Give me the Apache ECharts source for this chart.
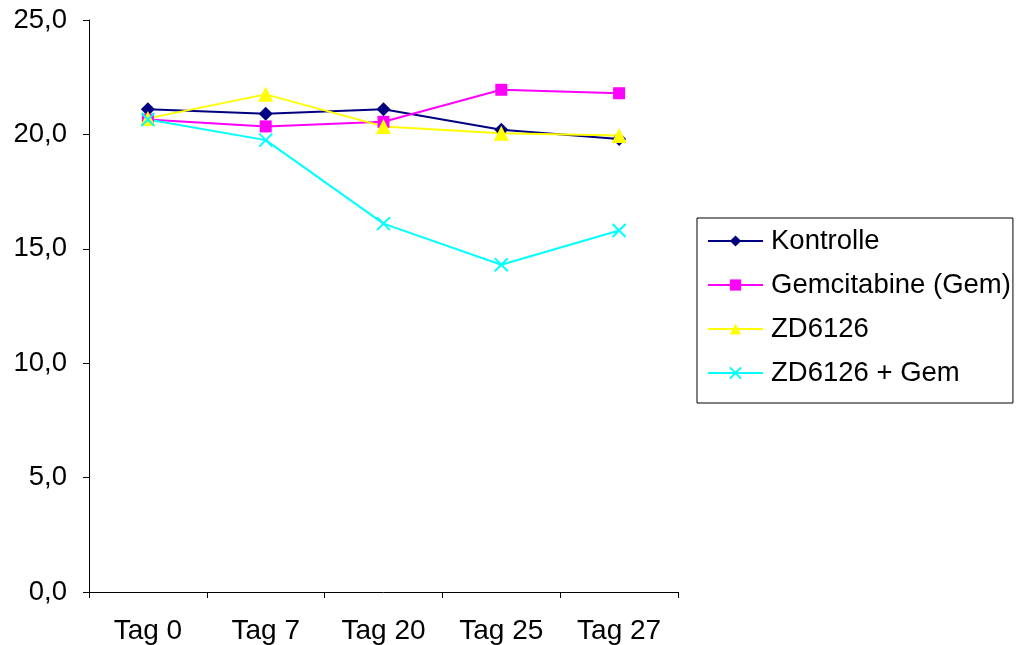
<!DOCTYPE html>
<html>
<head>
<meta charset="utf-8">
<script src="https://cdn.jsdelivr.net/npm/echarts@6/dist/echarts.min.js"></script>
<style>
  html, body { margin: 0; padding: 0; background: #fff; }
  #chart { width: 1018px; height: 645px; }
</style>
</head>
<body>
<div id="chart"></div>
<script>
// Time points of the measurement
const categories = ['Tag 0', 'Tag 7', 'Tag 20', 'Tag 25', 'Tag 27'];

// Group means per time point
const kontrolle = [21.1, 20.9, 21.1, 20.2, 19.8];
const gemcitabine = [20.65, 20.35, 20.55, 21.95, 21.8];
const zd6126 = [20.7, 21.75, 20.35, 20.05, 19.95];
const zdGem = [20.65, 19.75, 16.1, 14.3, 15.8];

const seriesNames = ['Kontrolle', 'Gemcitabine (Gem)', 'ZD6126', 'ZD6126 + Gem'];

// Y axis range and tick step
const yMin = 0, yMax = 25, yStep = 5;

const FONT = 'Liberation Sans, Arial, sans-serif';
const crossPath = 'path://M0,0L10,10M10,0L0,10';

const chart = echarts.init(document.getElementById('chart'), null, { renderer: 'canvas' });

function lineSeries(name, data, color, symbol, size, extra) {
  return Object.assign({
    name: name,
    type: 'line',
    data: data,
    symbol: symbol,
    symbolSize: size,
    showAllSymbol: true,
    animation: false,
    lineStyle: { color: color, width: 2 },
    itemStyle: { color: color },
    emphasis: { disabled: true }
  }, extra || {});
}

chart.setOption({
  backgroundColor: '#ffffff',
  textStyle: { fontFamily: FONT },
  grid: { left: 89, right: 340, top: 20, bottom: 53, containLabel: false },
  legend: {
    left: 697,
    top: 218,
    orient: 'vertical',
    data: seriesNames,
    itemWidth: 55,
    itemHeight: 14,
    itemGap: 16,
    padding: [9, 2, 16, 10],
    borderColor: '#000',
    borderWidth: 1,
    backgroundColor: '#fff',
    selectedMode: false,
    textStyle: { fontFamily: FONT, fontSize: 27.5, color: '#000', lineHeight: 28, padding: [0, 0, 0, 3] }
  },
  xAxis: {
    type: 'category',
    data: categories,
    boundaryGap: true,
    axisLine: { lineStyle: { color: '#000', width: 1 } },
    axisTick: { show: true, alignWithLabel: false, length: 6, lineStyle: { color: '#000' } },
    axisLabel: { fontFamily: FONT, fontSize: 28, color: '#000', margin: 25 },
    splitLine: { show: false }
  },
  yAxis: {
    type: 'value',
    min: yMin,
    max: yMax,
    interval: yStep,
    axisLine: { show: true, lineStyle: { color: '#000', width: 1 } },
    axisTick: { show: true, length: 6, lineStyle: { color: '#000' } },
    axisLabel: {
      fontFamily: FONT, fontSize: 27.5, color: '#000', margin: 22,
      formatter: v => v.toFixed(1).replace('.', ',')
    },
    splitLine: { show: false }
  },
  series: [
    lineSeries(seriesNames[0], kontrolle, '#000080', 'diamond', 14),
    lineSeries(seriesNames[1], gemcitabine, '#FF00FF', 'rect', 12),
    lineSeries(seriesNames[2], zd6126, '#FFFF00', 'triangle', 15),
    lineSeries(seriesNames[3], zdGem, '#00FFFF', crossPath, 13, {
      itemStyle: { color: '#00FFFF', borderColor: '#00FFFF', borderWidth: 2 }
    })
  ]
});
</script>
</body>
</html>
